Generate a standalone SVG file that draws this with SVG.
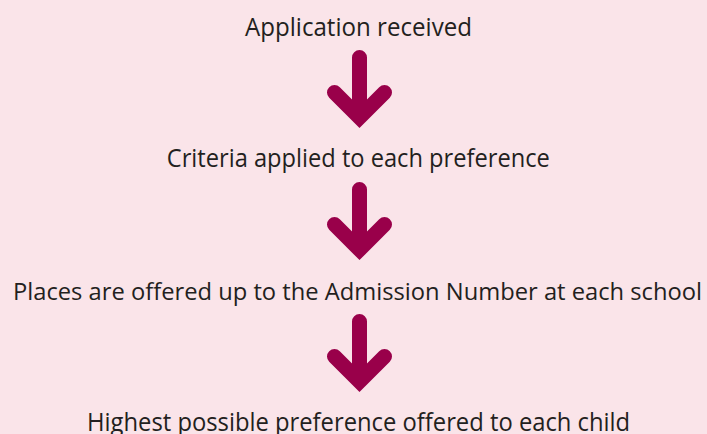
<svg xmlns="http://www.w3.org/2000/svg" width="707" height="434" viewBox="0 0 707 434">
<style>
.bg{fill:#FAE4E9}
.lbl{font-family:"Open Sans","Noto Sans","Liberation Sans",sans-serif;font-size:25px;fill:#231F20;text-anchor:middle}
.arr{fill:none;stroke:#99004A;stroke-width:15;stroke-linecap:round;stroke-linejoin:miter;stroke-miterlimit:4}
</style>
<rect class="bg" x="0" y="0" width="707" height="434"/>
<g id="connectors">
<path class="arr" d="M359.5 57.5V115M334.5 92.5L359.5 117.5L384.5 92.5"/>
<path class="arr" d="M359.5 189.5V247M334.5 224.5L359.5 249.5L384.5 224.5"/>
<path class="arr" d="M359.5 321.5V379M334.5 356.5L359.5 381.5L384.5 356.5"/>
</g>
<g id="node1"><text class="lbl" x="358.5" y="36" textLength="227" lengthAdjust="spacingAndGlyphs">Application received</text></g>
<g id="node2"><text class="lbl" x="358.3" y="167" textLength="383" lengthAdjust="spacingAndGlyphs">Criteria applied to each preference</text></g>
<g id="node3"><text class="lbl" x="357.5" y="300" style="font-size:24px" textLength="689" lengthAdjust="spacingAndGlyphs">Places are offered up to the Admission Number at each school</text></g>
<g id="node4"><text class="lbl" x="358.6" y="430.5" textLength="543" lengthAdjust="spacingAndGlyphs">Highest possible preference offered to each child</text></g>
</svg>
